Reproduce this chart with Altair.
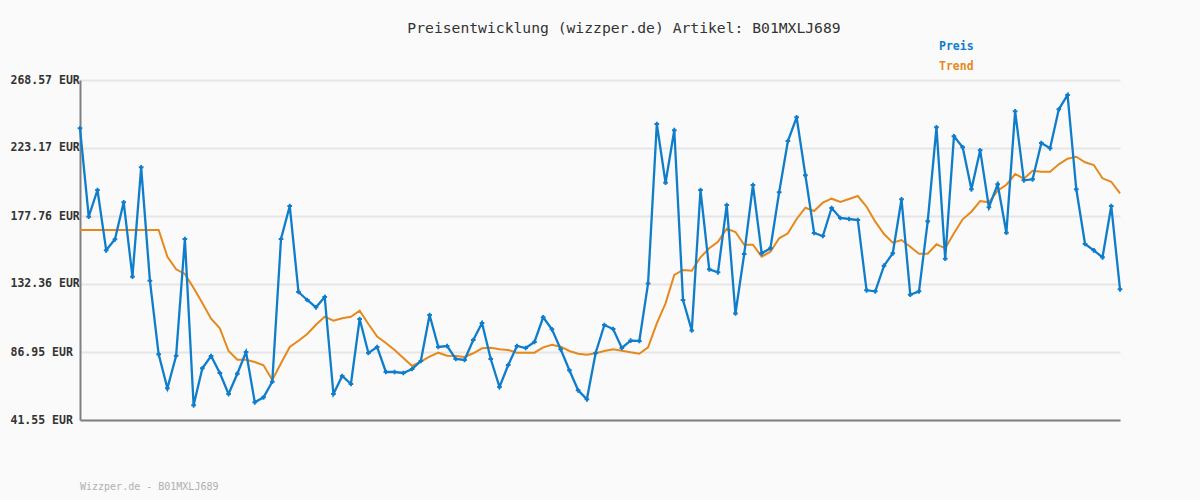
import altair as alt
import pandas as pd

# ---- data ----
preis = [236.32, 177.30, 195.12, 154.86, 162.20, 186.91, 137.23, 210.28, 134.56, 85.42,
         62.72, 84.48, 162.40, 51.37, 76.07, 84.28, 72.93, 58.91, 72.46, 86.95,
         53.37, 56.71, 67.12, 162.40, 184.44, 127.02, 121.67, 116.80, 123.68, 58.91,
         70.93, 65.59, 108.99, 86.29, 90.29, 73.60, 73.60, 72.93, 75.60, 80.94,
         111.66, 90.29, 90.96, 82.28, 81.61, 94.97, 106.32, 82.28, 63.58, 78.27,
         90.96, 89.62, 93.63, 110.12, 102.11, 88.76, 74.73, 61.38, 55.37, 86.29,
         104.98, 102.31, 89.62, 94.50, 94.30, 132.69, 239.19, 200.00, 235.05, 121.67,
         101.31, 195.12, 142.17, 140.17, 185.11, 112.66, 152.39, 198.46, 152.86, 156.20,
         193.59, 227.84, 243.66, 204.94, 166.41, 164.41, 183.10, 176.43, 175.76, 175.09,
         128.15, 127.48, 144.58, 152.86, 188.91, 125.21, 127.48, 174.22, 236.99, 149.25,
         230.98, 223.63, 195.59, 221.63, 183.57, 198.93, 166.61, 247.67, 201.60, 202.27,
         226.50, 222.97, 249.01, 258.55, 195.59, 159.07, 154.86, 150.19, 184.44, 128.82]

trend = [168.41, 168.41, 168.41, 168.41, 168.41, 168.41, 168.41, 168.41, 168.41, 168.41,
         150.59, 142.17, 139.04, 129.69, 119.67, 109.19, 102.78, 87.62, 81.81, 81.81,
         80.28, 78.07, 68.26, 79.41, 90.29, 94.50, 98.97, 105.18, 110.52, 107.85,
         109.46, 110.52, 114.53, 105.65, 97.30, 92.96, 88.29, 82.95, 77.61, 80.48,
         83.82, 86.49, 84.48, 84.28, 83.62, 86.09, 89.42, 89.83, 88.76, 88.29,
         86.49, 86.49, 86.49, 90.09, 91.83, 90.49, 87.62, 85.82, 85.15, 86.09,
         87.62, 88.76, 87.82, 86.75, 85.82, 90.09, 106.12, 119.47, 138.37, 141.71,
         141.24, 150.19, 156.20, 160.60, 169.28, 167.08, 158.60, 158.60, 150.59, 153.92,
         162.87, 166.21, 175.76, 183.30, 181.10, 186.64, 189.31, 187.11, 189.11, 191.12,
         183.97, 173.96, 165.74, 159.93, 161.74, 157.26, 152.59, 152.59, 158.87, 156.20,
         166.21, 175.56, 180.63, 187.78, 186.91, 194.65, 198.66, 205.81, 202.67, 208.01,
         207.34, 207.34, 212.28, 216.02, 217.36, 213.62, 211.81, 202.93, 200.66, 192.92]

y_ticks = [41.55, 86.95, 132.36, 177.76, 223.17, 268.57]
series = ["Preis", "Trend"]
colors = ["#0f7dca", "#e5891d"]

title_text = "Preisentwicklung (wizzper.de) Artikel: B01MXLJ689"
footer_text = "Wizzper.de - B01MXLJ689"

n = len(preis)
df = pd.DataFrame({
    "i": list(range(n)) * 2,
    "wert": preis + trend,
    "serie": ["Preis"] * n + ["Trend"] * n,
})

MONO = "DejaVu Sans Mono"

x = alt.X("i:Q", scale=alt.Scale(domain=[0, n - 1], nice=False, zero=False),
          axis=alt.Axis(labels=False, ticks=False, tickSize=0, grid=False, title=None,
                        domainColor="#808080", domainWidth=2))
y = alt.Y("wert:Q", scale=alt.Scale(domain=[y_ticks[0], y_ticks[-1]], nice=False, zero=False),
          axis=alt.Axis(values=y_ticks, labelExpr="format(datum.value, '.2f') + ' EUR'",
                        title=None, ticks=False, tickSize=0, grid=True, gridColor="#e6e6e6",
                        gridWidth=2, domainColor="#808080", domainWidth=2,
                        labelAlign="left", labelPadding=70, labelBaseline="middle",
                        labelFont=MONO, labelFontSize=11.5, labelFontWeight="bold",
                        labelColor="#333333"))
color = alt.Color("serie:N", scale=alt.Scale(domain=series, range=colors), legend=None)

base = alt.Chart(df).encode(x=x, y=y, color=color)

trend_line = base.transform_filter(alt.datum.serie == "Trend").mark_line(strokeWidth=2)
preis_line = base.transform_filter(alt.datum.serie == "Preis").mark_line(strokeWidth=2.3)
preis_pts = base.transform_filter(alt.datum.serie == "Preis").mark_point(
    shape="cross", filled=True, size=22, opacity=1)

title = alt.Chart(pd.DataFrame({"t": [title_text]})).mark_text(
    font=MONO, fontSize=14.7, color="#333333", align="center", baseline="middle"
).encode(text="t:N", x=alt.value(544), y=alt.value(-51))

leg_preis = alt.Chart(pd.DataFrame({"t": [series[0]]})).mark_text(
    font=MONO, fontSize=11.5, fontWeight="bold", color=colors[0], align="left", baseline="middle"
).encode(text="t:N", x=alt.value(859), y=alt.value(-33))

leg_trend = alt.Chart(pd.DataFrame({"t": [series[1]]})).mark_text(
    font=MONO, fontSize=11.5, fontWeight="bold", color=colors[1], align="left", baseline="middle"
).encode(text="t:N", x=alt.value(859), y=alt.value(-13))

footer = alt.Chart(pd.DataFrame({"t": [footer_text]})).mark_text(
    font=MONO, fontSize=10, color="#b0b0b0", align="left", baseline="middle"
).encode(text="t:N", x=alt.value(0), y=alt.value(407))

chart = alt.layer(trend_line, preis_line, preis_pts, title, leg_preis, leg_trend, footer).properties(
    width=1040, height=340,
    autosize=alt.AutoSizeParams(type="none"),
    padding={"left": 72, "top": 72, "right": 72, "bottom": 72},
    background="#fafafa",
).configure_view(stroke=None)

chart.save("out.html", embed_options={"renderer": "svg", "actions": False})

# give the page margin the same background as the chart
with open("out.html", encoding="utf-8") as f:
    html = f.read()
html = html.replace("<head>", "<head><style>html, body { background: #fafafa; }</style>", 1)
with open("out.html", "w", encoding="utf-8") as f:
    f.write(html)
